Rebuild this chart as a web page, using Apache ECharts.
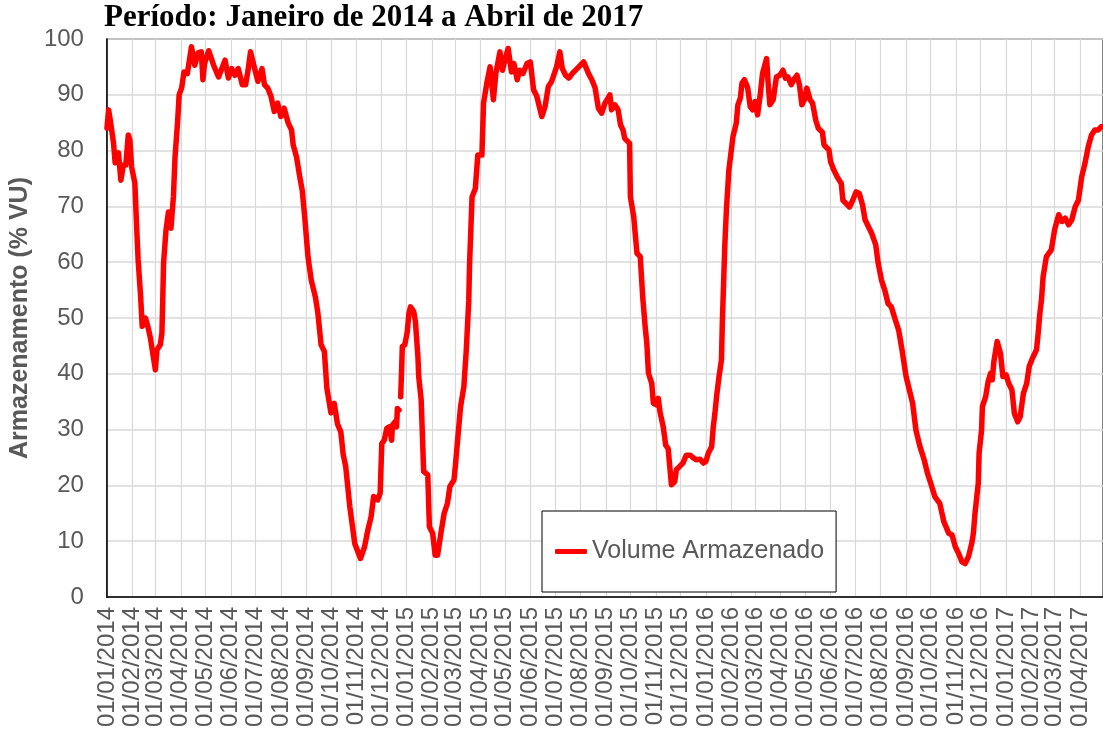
<!DOCTYPE html>
<html>
<head>
<meta charset="utf-8">
<title>Volume Armazenado</title>
<script src="https://cdn.jsdelivr.net/npm/echarts@6/dist/echarts.min.js"></script>
<style>
  html, body { margin: 0; padding: 0; background: #fff; }
  #chart { width: 1103px; height: 743px; }
</style>
</head>
<body>
<div id="chart"></div>
<script>
// datas das leituras (uma linha por mes) e volume armazenado (% VU) na mesma ordem
const datas = [
  '2014-01-01','2014-01-03','2014-01-05','2014-01-09','2014-01-11','2014-01-15','2014-01-18','2014-01-21','2014-01-24','2014-01-27','2014-01-29','2014-01-31',
  '2014-02-04','2014-02-06','2014-02-08','2014-02-11','2014-02-13','2014-02-17','2014-02-20','2014-02-23','2014-02-25',
  '2014-03-01','2014-03-03','2014-03-07','2014-03-09','2014-03-10','2014-03-11','2014-03-14','2014-03-17','2014-03-20','2014-03-23','2014-03-25','2014-03-28','2014-03-30',
  '2014-04-02','2014-04-05','2014-04-09','2014-04-14','2014-04-18','2014-04-22','2014-04-26','2014-04-28','2014-04-30',
  '2014-05-05','2014-05-11','2014-05-17','2014-05-25','2014-05-29',
  '2014-06-02','2014-06-06','2014-06-10','2014-06-15','2014-06-19','2014-06-22','2014-06-25','2014-06-29',
  '2014-07-04','2014-07-09','2014-07-12','2014-07-16','2014-07-20','2014-07-24','2014-07-28',
  '2014-08-01','2014-08-05','2014-08-10','2014-08-14','2014-08-16','2014-08-20','2014-08-24','2014-08-27','2014-08-30',
  '2014-09-03','2014-09-07','2014-09-12','2014-09-15','2014-09-19','2014-09-23','2014-09-26',
  '2014-10-01','2014-10-05','2014-10-09','2014-10-13','2014-10-16','2014-10-19','2014-10-24','2014-10-30',
  '2014-11-06','2014-11-11','2014-11-15','2014-11-19','2014-11-22','2014-11-27','2014-11-30',
  '2014-12-02','2014-12-05','2014-12-08','2014-12-11','2014-12-14','2014-12-15','2014-12-18','2014-12-20','2014-12-21','2014-12-23','2014-12-24','2014-12-25','2014-12-26','2014-12-27','2014-12-30',
  '2015-01-02','2015-01-04','2015-01-06','2015-01-10','2015-01-12','2015-01-15','2015-01-16','2015-01-19','2015-01-22','2015-01-27','2015-01-29',
  '2015-02-02','2015-02-05','2015-02-08','2015-02-12','2015-02-16','2015-02-20','2015-02-23','2015-02-28',
  '2015-03-02','2015-03-04','2015-03-08','2015-03-12','2015-03-15','2015-03-18','2015-03-19','2015-03-22','2015-03-26','2015-03-29',
  '2015-04-03','2015-04-05','2015-04-09','2015-04-13','2015-04-17','2015-04-20','2015-04-25','2015-04-28',
  '2015-05-02','2015-05-05','2015-05-09','2015-05-12','2015-05-16','2015-05-19','2015-05-23','2015-05-28',
  '2015-06-01','2015-06-05','2015-06-09','2015-06-15','2015-06-19','2015-06-23','2015-06-27',
  '2015-07-03','2015-07-07','2015-07-10','2015-07-14','2015-07-18','2015-07-22','2015-07-28',
  '2015-08-05','2015-08-11','2015-08-15','2015-08-19','2015-08-23','2015-08-27','2015-08-31',
  '2015-09-06','2015-09-08','2015-09-12','2015-09-16','2015-09-19','2015-09-22','2015-09-24','2015-09-30',
  '2015-10-01','2015-10-05','2015-10-09','2015-10-13','2015-10-16','2015-10-19','2015-10-21','2015-10-23','2015-10-27','2015-10-29',
  '2015-11-02','2015-11-04','2015-11-06','2015-11-10','2015-11-13','2015-11-16','2015-11-20','2015-11-24','2015-11-26','2015-11-30',
  '2015-12-04','2015-12-08','2015-12-13','2015-12-17','2015-12-20','2015-12-25','2015-12-29',
  '2016-01-01','2016-01-04','2016-01-08','2016-01-10','2016-01-12','2016-01-14','2016-01-17','2016-01-20','2016-01-21','2016-01-24','2016-01-26','2016-01-29',
  '2016-02-01','2016-02-03','2016-02-07','2016-02-09','2016-02-12','2016-02-14','2016-02-17','2016-02-21','2016-02-24','2016-02-27',
  '2016-03-01','2016-03-04','2016-03-07','2016-03-10','2016-03-12','2016-03-15','2016-03-17','2016-03-19','2016-03-23','2016-03-27','2016-03-31',
  '2016-04-04','2016-04-07','2016-04-10','2016-04-14','2016-04-17','2016-04-21','2016-04-24','2016-04-27','2016-04-30',
  '2016-05-03','2016-05-07','2016-05-10','2016-05-14','2016-05-17','2016-05-22','2016-05-24','2016-05-30',
  '2016-06-01','2016-06-05','2016-06-09','2016-06-14','2016-06-16','2016-06-20','2016-06-24','2016-06-28',
  '2016-07-02','2016-07-06','2016-07-10','2016-07-13','2016-07-17','2016-07-21','2016-07-26','2016-07-29',
  '2016-08-02','2016-08-06','2016-08-10','2016-08-14','2016-08-19','2016-08-23','2016-08-27',
  '2016-09-01','2016-09-05','2016-09-09','2016-09-13','2016-09-18','2016-09-23','2016-09-27',
  '2016-10-01','2016-10-06','2016-10-12','2016-10-17','2016-10-23','2016-10-27','2016-10-31',
  '2016-11-04','2016-11-08','2016-11-12','2016-11-16','2016-11-20','2016-11-22','2016-11-24','2016-11-28','2016-11-29',
  '2016-12-02','2016-12-03','2016-12-07','2016-12-10','2016-12-13','2016-12-15','2016-12-17','2016-12-21','2016-12-25','2016-12-28',
  '2017-01-01','2017-01-04','2017-01-08','2017-01-11','2017-01-15','2017-01-18','2017-01-22','2017-01-26','2017-01-29',
  '2017-02-02','2017-02-07','2017-02-09','2017-02-11','2017-02-13','2017-02-15','2017-02-19','2017-02-25',
  '2017-03-01','2017-03-06','2017-03-10','2017-03-14','2017-03-18','2017-03-22','2017-03-26','2017-03-30',
  '2017-04-03','2017-04-07','2017-04-11','2017-04-15','2017-04-19','2017-04-23','2017-04-27'
]
const volume = [
  84.0,87.3,85.5,81.4,77.8,79.6,74.7,77.4,77.4,82.8,81.9,77.1,
  74.2,67.0,60.4,54.0,48.5,50.0,48.4,46.4,46.6,
  40.7,44.3,45.2,47.3,53.2,59.8,65.8,69.0,66.1,71.7,78.9,84.9,90.0,
  91.2,94.1,93.8,98.6,95.3,97.5,97.7,92.7,95.6,
  97.9,95.3,93.2,96.2,93.0,
  94.7,93.5,94.7,91.8,91.8,94.4,97.7,95.3,
  92.4,94.7,91.8,91.2,89.7,87.0,88.5,
  86.1,87.6,84.9,83.7,81.0,78.9,75.3,72.9,68.2,
  61.0,56.8,53.8,51.0,45.2,44.0,37.5,
  33.0,34.7,31.0,29.6,25.5,23.4,16.2,9.6,
  6.9,9.0,12.0,14.4,18.0,17.4,18.6,
  27.5,28.1,30.2,30.5,28.1,30.8,31.4,30.5,33.8,33.5,null,35.9,40.1,44.9,45.2,
  47.5,50.8,52.0,51.1,49.3,43.1,39.5,35.3,22.5,21.9,12.6,
  11.4,7.5,7.5,11.4,15.0,16.8,19.8,21.0,
  24.0,27.5,34.1,37.7,44.3,53.2,59.8,71.7,73.2,79.2,
  79.2,88.5,92.1,95.0,89.1,93.8,97.7,94.4,
  96.8,98.3,94.1,95.6,92.7,94.4,93.8,95.6,
  95.9,90.9,89.7,86.1,87.9,91.5,92.4,
  95.0,97.7,94.7,93.5,93.0,93.8,94.7,
  95.9,93.8,92.7,91.2,87.6,86.7,88.5,
  90.0,87.3,88.2,87.3,84.6,83.7,82.2,81.3,
  71.7,68.2,61.6,61.0,53.8,48.4,45.5,40.1,38.3,34.7,
  34.4,35.6,33.2,30.5,27.2,26.6,20.1,20.7,22.8,23.4,
  24.0,25.4,25.4,24.9,24.6,24.7,24.0,
  24.3,25.8,26.9,30.5,32.9,35.9,39.5,42.5,49.0,62.8,69.4,76.5,
  80.1,82.5,84.9,88.2,89.4,92.1,92.7,91.2,87.9,87.3,
  88.8,86.4,89.7,93.8,94.1,96.5,91.8,88.2,89.1,93.2,93.5,
  94.4,93.0,93.2,91.8,92.7,93.5,91.8,88.2,89.1,
  91.2,89.1,88.5,85.4,84.0,83.3,81.0,80.1,
  78.0,76.5,75.3,74.1,71.1,70.5,69.9,71.1,
  72.6,72.3,70.2,67.6,66.4,65.2,63.1,59.8,
  56.8,55.0,52.6,52.0,49.6,47.8,44.3,
  39.5,37.1,34.7,29.9,26.9,24.6,22.2,
  20.4,18.0,16.8,13.5,11.4,11.1,9.0,
  7.8,6.3,6.0,7.2,9.6,11.4,15.0,20.4,25.8,
  29.9,34.1,35.9,38.6,40.1,38.9,42.2,45.8,43.7,39.5,
  39.8,38.3,37.1,32.9,31.4,32.3,36.5,38.3,41.3,
  42.8,44.3,47.3,50.8,53.2,57.4,61.0,62.2,
  65.8,68.5,67.3,67.9,66.7,67.6,69.9,71.1,
  75.3,77.7,80.7,82.8,83.7,83.7,84.3
]
// inicio de cada mes = marcas do eixo x
const meses = [
  '2014-01-01','2014-02-01','2014-03-01','2014-04-01','2014-05-01','2014-06-01',
  '2014-07-01','2014-08-01','2014-09-01','2014-10-01','2014-11-01','2014-12-01',
  '2015-01-01','2015-02-01','2015-03-01','2015-04-01','2015-05-01','2015-06-01',
  '2015-07-01','2015-08-01','2015-09-01','2015-10-01','2015-11-01','2015-12-01',
  '2016-01-01','2016-02-01','2016-03-01','2016-04-01','2016-05-01','2016-06-01',
  '2016-07-01','2016-08-01','2016-09-01','2016-10-01','2016-11-01','2016-12-01',
  '2017-01-01','2017-02-01','2017-03-01','2017-04-01'
]
const inicio = '2014-01-01'
const fim = '2017-04-29'

// 'AAAA-MM-DD' -> timestamp (hora local)
const ts = s => {
  const p = s.split('-')
  return new Date(+p[0], +p[1] - 1, +p[2]).getTime()
}
const pad = n => (n < 10 ? '0' : '') + n
const fmtData = v => {
  const d = new Date(v)
  return pad(d.getDate()) + '/' + pad(d.getMonth() + 1) + '/' + d.getFullYear()
}

const pontos = datas.map((d, i) => [ts(d), volume[i] === null ? '-' : volume[i]])
const marcas = meses.map(ts)

const sans = 'Liberation Sans, Arial, sans-serif'
let myChart = echarts.init(document.getElementById('chart'))
myChart.setOption({
  animation: false,
  title: {
    text: 'Período: Janeiro de 2014 a Abril de 2017',
    left: 104,
    top: 2,
    padding: 0,
    textStyle: { fontFamily: 'Liberation Serif, Times New Roman, serif', fontWeight: 'bold', fontSize: 31, color: '#000' }
  },
  grid: {
    left: 105, top: 39, right: -2, bottom: 146,
    show: true, borderColor: '#595959', borderWidth: 1.5, backgroundColor: 'transparent'
  },
  legend: {
    data: ['Volume Armazenado'],
    left: 542, top: 511,
    padding: [28, 12, 28, 13],
    icon: 'roundRect',
    itemWidth: 32, itemHeight: 5,
    backgroundColor: '#fff',
    borderColor: '#000', borderWidth: 1,
    textStyle: { fontFamily: sans, fontSize: 25, color: '#595959' }
  },
  xAxis: {
    type: 'value',
    min: ts(inicio),
    max: ts(fim),
    axisLine: { show: true, onZero: false, lineStyle: { color: '#000', width: 1.5 } },
    axisTick: { show: false, customValues: marcas },
    splitLine: { show: true, lineStyle: { color: '#d9d9d9', width: 1.2 } },
    axisLabel: {
      customValues: marcas,
      rotate: 90,
      margin: 10,
      fontFamily: sans,
      fontSize: 24,
      color: '#595959',
      formatter: fmtData
    }
  },
  yAxis: {
    type: 'value',
    min: 0, max: 100, interval: 10,
    name: 'Armazenamento (% VU)',
    nameLocation: 'middle',
    nameGap: 54,
    nameTextStyle: { fontFamily: sans, fontWeight: 'bold', fontSize: 25, color: '#595959' },
    axisLine: { show: true, lineStyle: { color: '#000', width: 1.5 } },
    axisTick: { show: false },
    splitLine: { show: true, lineStyle: { color: '#d9d9d9', width: 1.5 } },
    axisLabel: { margin: 23, fontFamily: sans, fontSize: 24, color: '#595959' }
  },
  series: [{
    name: 'Volume Armazenado',
    type: 'line',
    data: pontos,
    showSymbol: false,
    connectNulls: false,
    itemStyle: { color: '#ff0000' },
    lineStyle: { color: '#ff0000', width: 5.5, cap: 'round', join: 'round' }
  }]
})
</script>
</body>
</html>
